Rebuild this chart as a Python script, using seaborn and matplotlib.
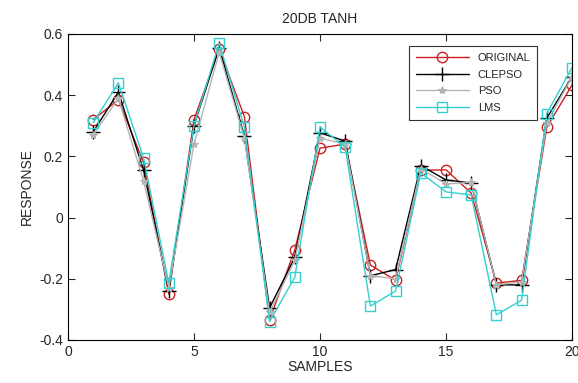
import numpy as np
import pandas as pd
import matplotlib
matplotlib.use("Agg")
import matplotlib.pyplot as plt
import seaborn as sns

samples = list(range(1, 21))
original = [0.32, 0.385, 0.18, -0.25, 0.32, 0.55, 0.33, -0.335, -0.105, 0.227,
            0.24, -0.155, -0.205, 0.155, 0.156, 0.08, -0.214, -0.205, 0.295, 0.433]
clepso = [0.28, 0.41, 0.155, -0.24, 0.30, 0.555, 0.265, -0.295, -0.13, 0.277,
          0.25, -0.19, -0.17, 0.17, 0.123, 0.113, -0.22, -0.22, 0.325, 0.46]
pso = [0.27, 0.39, 0.12, -0.23, 0.24, 0.54, 0.26, -0.31, -0.14, 0.26,
       0.24, -0.19, -0.20, 0.16, 0.11, 0.115, -0.22, -0.21, 0.31, 0.46]
lms = [0.31, 0.44, 0.195, -0.214, 0.30, 0.57, 0.295, -0.34, -0.195, 0.296,
       0.23, -0.289, -0.24, 0.146, 0.084, 0.074, -0.318, -0.27, 0.34, 0.49]

series = {"ORIGINAL": original, "CLEPSO": clepso, "PSO": pso, "LMS": lms}
styles = {
    "ORIGINAL": dict(color="#cc2020", marker="o", markersize=7.5, mfc="none", mew=1.0),
    "CLEPSO": dict(color="black", marker="+", markersize=10, mew=1.0),
    "PSO": dict(color="#b4b4b4", marker="*", markersize=6, mew=0.8),
    "LMS": dict(color="#33d0d0", marker="s", markersize=7.5, mfc="none", mew=1.0),
}

sns.set_style("ticks")
plt.rcParams['font.family'] = ['Liberation Sans', 'DejaVu Sans']

fig = plt.figure(figsize=(5.78, 3.83), dpi=100)
ax = fig.add_axes([0.1176, 0.1123, 0.8720, 0.7990])

for name, vals in series.items():
    df = pd.DataFrame({"SAMPLES": samples, "RESPONSE": vals})
    st = styles[name]
    sns.lineplot(data=df, x="SAMPLES", y="RESPONSE", ax=ax, label=name,
                 color=st["color"], marker=st["marker"], markersize=st["markersize"],
                 markerfacecolor=st.get("mfc", st["color"]),
                 markeredgecolor=st["color"], markeredgewidth=st["mew"],
                 linewidth=1.0)

ax.set_xlim(0, 20)
ax.set_ylim(-0.4, 0.6)
ax.set_xticks([0, 5, 10, 15, 20])
ax.set_yticks([-0.4, -0.2, 0, 0.2, 0.4, 0.6])
ax.set_yticklabels(["-0.4", "-0.2", "0", "0.2", "0.4", "0.6"])
ax.tick_params(direction="in", top=True, right=True, labelsize=10, length=5, width=0.8)
for sp in ax.spines.values():
    sp.set_linewidth(0.8)
    sp.set_color("black")

ax.set_xlabel("SAMPLES", fontsize=10, labelpad=1)
ax.set_ylabel("RESPONSE", fontsize=10, labelpad=4)
ax.set_title("20DB TANH", fontsize=10, pad=8)

leg = ax.legend(loc="upper right", bbox_to_anchor=(0.942, 0.978), fontsize=8,
                frameon=True, fancybox=False, edgecolor="black",
                handlelength=4.8, borderpad=0.6, labelspacing=0.6)
leg.get_frame().set_linewidth(0.8)

fig.savefig("out.png", dpi=100)
